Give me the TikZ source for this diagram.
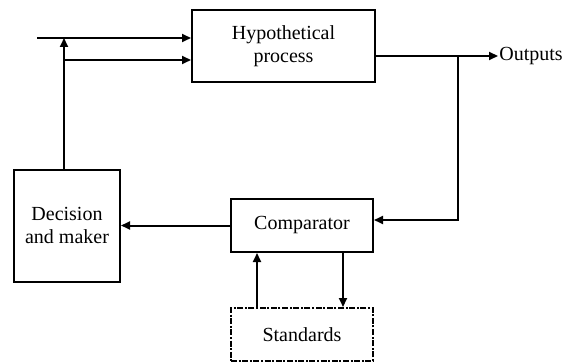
\documentclass[tikz,border=0pt]{standalone}
\usepackage{fontspec}
\setmainfont{Liberation Serif}
\usepackage{tikz}
\usetikzlibrary{positioning}
\usetikzlibrary{arrows.meta}

\tikzset{
  block/.style={draw, line width=1pt, align=center, font=\fontsize{10}{11.5}\selectfont},
  dashblock/.style={block, dash pattern=on 3pt off 0.8pt on 1pt off 0.8pt},
  link/.style={line width=1pt, -{Triangle[length=4.5pt,width=4pt]}}
}

\begin{document}
\begin{tikzpicture}[node distance=2cm,on grid,auto]
      \useasboundingbox (0,0) rectangle (285.5pt,-181.5pt);
        % \draw[help lines] (0,0) grid (3,2);

      \node[block, minimum width=71pt, minimum height=26.5pt] (comp) at (151pt,-112.75pt) {Comparator};
      \node[block, minimum width=91.5pt, minimum height=36pt, above left=89.75pt and 9.25pt of comp] (proc) {Hypothetical\\process};
      \node[block, minimum width=53pt, minimum height=56pt, left=117.5pt of comp] (dec) {Decision\\and maker};
      \node[dashblock, minimum width=71pt, minimum height=26.5pt, below=54.5pt of comp] (std) {Standards};
      \node[font=\fontsize{10}{11.5}\selectfont, anchor=west, inner sep=0.5pt] (out) at (249pt,-28pt) {Outputs};

      \coordinate (in)  at (18.5pt,-19pt);
      \coordinate (fb)  at (32pt,-30pt);
      \coordinate (tap) at (229pt,-28pt);

      % inputs
      \draw[link] (in) -- (in -| proc.west);
      \draw[link] (fb) -- (fb -| proc.west);
      \draw[link] (fb |- dec.north) -- (fb |- in);

      % outputs and feedback
      \draw[link] (tap -| proc.east) -- (out.west);
      \draw[link] (tap) |- ([yshift=2.75pt]comp.east);
      \draw[link] (comp.west) -- (comp.west -| dec.east);
      \draw[link] ([xshift=-22.5pt]std.north) -- ([xshift=-22.5pt]comp.south);
      \draw[link] ([xshift=20.5pt]comp.south) -- ([xshift=20.5pt]std.north);
    \end{tikzpicture}
\end{document}
